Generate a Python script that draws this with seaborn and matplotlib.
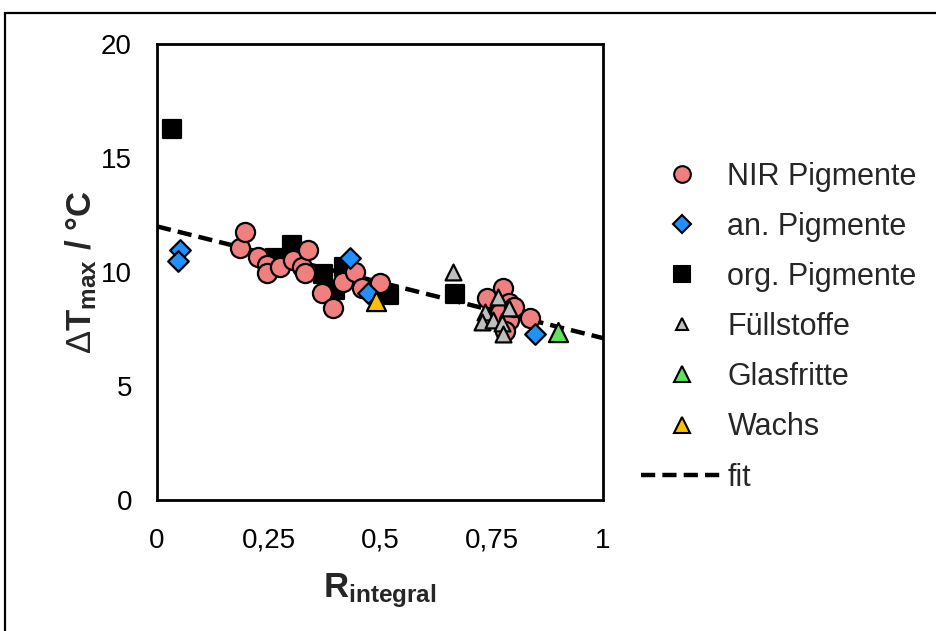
import matplotlib
matplotlib.use("Agg")
import matplotlib.pyplot as plt
from matplotlib.lines import Line2D
from matplotlib.patches import Rectangle
import seaborn as sns
import pandas as pd

# ---------------- data ----------------
nir_x = [0.186, 0.197, 0.227, 0.246, 0.246, 0.276, 0.306, 0.324, 0.332, 0.339,
         0.369, 0.395, 0.418, 0.444, 0.459, 0.500, 0.739, 0.776, 0.790, 0.770,
         0.790, 0.780, 0.836, 0.800]
nir_y = [11.04, 11.77, 10.67, 10.30, 9.94, 10.23, 10.53, 10.23, 9.94, 10.96,
         9.06, 8.40, 9.57, 10.00, 9.28, 9.52, 8.84, 9.28, 8.65, 8.20,
         7.90, 7.40, 7.97, 8.45]

an_x = [0.052, 0.047, 0.433, 0.473, 0.847]
an_y = [10.96, 10.50, 10.60, 9.10, 7.26]

org_x = [0.034, 0.265, 0.303, 0.372, 0.400, 0.420, 0.520, 0.668]
org_y = [16.27, 10.60, 11.18, 9.90, 9.20, 10.20, 9.00, 9.04]

fuell_x = [0.664, 0.765, 0.790, 0.735, 0.728, 0.753, 0.773, 0.776]
fuell_y = [10.00, 8.90, 8.40, 8.26, 7.80, 7.90, 7.75, 7.28]

glas_x = [0.899]
glas_y = [7.38]

wachs_x = [0.490]
wachs_y = [8.75]

fit_x = [0.0, 1.0]
fit_y = [12.0, 7.1]

group_names = ["NIR Pigmente", "an. Pigmente", "org. Pigmente",
               "Füllstoffe", "Glasfritte", "Wachs"]
x_ticks = [0, 0.25, 0.5, 0.75, 1]
x_ticklabels = ["0", "0,25", "0,5", "0,75", "1"]
y_ticks = [0, 5, 10, 15, 20]
y_ticklabels = ["0", "5", "10", "15", "20"]

# ---------------- style ----------------
sns.set_theme(style="white")
plt.rcParams["font.family"] = ["Liberation Sans", "DejaVu Sans"]
plt.rcParams["mathtext.fontset"] = "custom"
plt.rcParams["mathtext.rm"] = "Liberation Sans"
plt.rcParams["mathtext.bf"] = "Liberation Sans:bold"
plt.rcParams["mathtext.it"] = "Liberation Sans:italic"

fig = plt.figure(figsize=(9.36, 6.31), dpi=100)
ax = fig.add_axes([157 / 936, 1 - 500 / 631, 446 / 936, 456 / 631])

styles = {
    "NIR Pigmente": dict(marker="o", color="#F08080", s=190, z=4),
    "an. Pigmente": dict(marker="D", color="#1E90FF", s=110, z=5),
    "org. Pigmente": dict(marker="s", color="#000000", s=170, z=3),
    "Füllstoffe": dict(marker="^", color="#BFBFBF", s=130, z=6),
    "Glasfritte": dict(marker="^", color="#5EE35E", s=190, z=6),
    "Wachs": dict(marker="^", color="#FFC000", s=190, z=6),
}
series = {
    "NIR Pigmente": (nir_x, nir_y),
    "an. Pigmente": (an_x, an_y),
    "org. Pigmente": (org_x, org_y),
    "Füllstoffe": (fuell_x, fuell_y),
    "Glasfritte": (glas_x, glas_y),
    "Wachs": (wachs_x, wachs_y),
}

fit_df = pd.DataFrame({"x": fit_x, "y": fit_y})
sns.lineplot(data=fit_df, x="x", y="y", ax=ax, color="black", lw=3.2,
             linestyle=(0, (3.2, 1.6)), zorder=2, legend=False)

for name in group_names:
    xs, ys = series[name]
    st = styles[name]
    df = pd.DataFrame({"x": xs, "y": ys})
    sns.scatterplot(data=df, x="x", y="y", ax=ax, marker=st["marker"],
                    color=st["color"], s=st["s"], edgecolor="black",
                    linewidth=1.6, zorder=st["z"], legend=False)

ax.set_xlim(0, 1)
ax.set_ylim(0, 20)
ax.set_xticks(x_ticks)
ax.set_xticklabels(x_ticklabels)
ax.set_yticks(y_ticks)
ax.set_yticklabels(y_ticklabels)
ax.tick_params(axis="both", direction="in", length=8, width=1.5,
               labelsize=20, colors="black")
ax.tick_params(axis="x", pad=20)
ax.tick_params(axis="y", pad=18)
ax.tick_params(top=False, right=False)
for sp in ax.spines.values():
    sp.set_linewidth(2)
    sp.set_color("black")

ax.set_xlabel(r"$\mathbf{R}_{\mathbf{integral}}$", fontsize=25)
ax.set_ylabel(r"$\Delta\mathbf{T}_{\mathbf{max}}$ / °C", fontsize=25,
              fontweight="bold")
ax.xaxis.set_label_coords(0.5, -0.157)
ax.yaxis.set_label_coords(-0.13, 0.5)

# legend
handles = []
leg_sizes = {"NIR Pigmente": 12, "an. Pigmente": 9.5, "org. Pigmente": 11,
             "Füllstoffe": 9, "Glasfritte": 11.5, "Wachs": 11.5}
for name in group_names:
    st = styles[name]
    handles.append(Line2D([], [], linestyle="", marker=st["marker"],
                          markerfacecolor=st["color"], markeredgecolor="black",
                          markeredgewidth=1.5, markersize=leg_sizes[name]))
handles.append(Line2D([], [], color="black", lw=3.2, linestyle=(0, (3.2, 1.6))))
labels = group_names + ["fit"]
fig.legend(handles, labels, loc="center left",
           bbox_to_anchor=(641 / 936, 1 - 327 / 631), frameon=False,
           fontsize=22, handlelength=2.7, handletextpad=0.13,
           labelspacing=0.66, borderpad=0, borderaxespad=0)

# outer border (partially visible in reference)
fig.patches.append(Rectangle((5 / 936, -0.2), 1.5, 1.2 - 13 / 631,
                             transform=fig.transFigure, fill=False,
                             edgecolor="black", lw=1.6))

fig.savefig("out.png", dpi=100)
